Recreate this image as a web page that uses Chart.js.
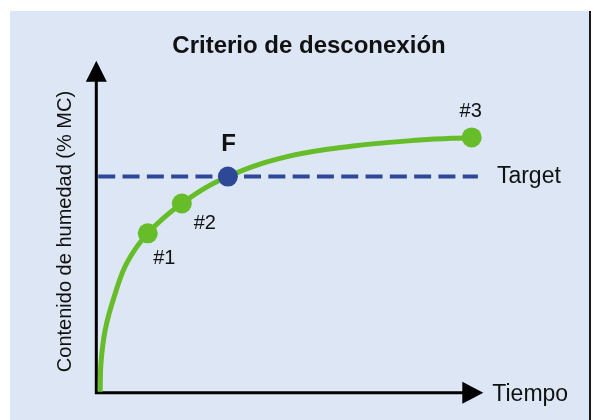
<!DOCTYPE html>
<html>
<head>
<meta charset="utf-8">
<script src="https://cdn.jsdelivr.net/npm/chart.js@4"></script>
<style>
  html, body { margin: 0; padding: 0; background: #ffffff; }
  canvas { display: block; }
</style>
</head>
<body>
<canvas id="grafico" width="595" height="420"></canvas>
<script>
// Datos (unidades arbitrarias: tiempo 0-100, humedad 0-100)
const curvaTiempo = [1.0, 1.2, 2.3, 4.6, 7.9, 13.3, 22.1, 34.0, 49.3, 66.3, 83.6, 97.0];
const curvaHumedad = [0.3, 8.9, 18.9, 28.8, 39.1, 48.0, 57.0, 65.1, 71.1, 74.3, 76.1, 76.9];

const puntosNombre = ['#1', '#2', 'F', '#3'];
const puntosTiempo = [13.3, 22.1, 34.0, 97.0];
const puntosHumedad = [48.0, 57.0, 65.1, 76.9];

const targetHumedad = 65.1;
const targetDesde = 0.5;
const targetHasta = 98.6;

const titulo = 'Criterio de desconexión';
const tituloEjeY = 'Contenido de humedad (% MC)';
const tituloEjeX = 'Tiempo';
const textoTarget = 'Target';

const VERDE = '#66bc29';
const AZUL = '#2e4898';
const FONDO = '#dce6f4';

// fondo, ejes con flechas y textos sueltos
const dibujoExtra = {
    id: 'dibujoExtra',
    beforeDraw(chart) {
        const ctx = chart.ctx;
        ctx.save();
        ctx.fillStyle = '#ffffff';
        ctx.fillRect(0, 0, chart.width, chart.height);
        ctx.fillStyle = FONDO;
        ctx.fillRect(10, 11, 579, 409);
        ctx.fillStyle = '#1a1a1a';
        ctx.fillRect(589, 11, 2, 409);
        ctx.restore();
    },
    beforeDatasetsDraw(chart) {
        const ctx = chart.ctx;
        const sx = chart.scales.x;
        const sy = chart.scales.y;
        const x0 = sx.getPixelForValue(0);
        const y0 = sy.getPixelForValue(0);
        const yTop = sy.getPixelForValue(100);
        const xEnd = sx.getPixelForValue(100);

        ctx.save();
        ctx.strokeStyle = '#000';
        ctx.fillStyle = '#000';
        ctx.lineWidth = 3;
        ctx.beginPath();
        ctx.moveTo(x0, yTop + 20);
        ctx.lineTo(x0, y0);
        ctx.lineTo(xEnd - 20, y0);
        ctx.stroke();

        // flecha eje y
        ctx.beginPath();
        ctx.moveTo(x0, yTop);
        ctx.lineTo(x0 - 10.5, yTop + 21);
        ctx.lineTo(x0 + 10.5, yTop + 21);
        ctx.closePath();
        ctx.fill();
        // flecha eje x
        ctx.beginPath();
        ctx.moveTo(xEnd, y0);
        ctx.lineTo(xEnd - 21, y0 - 11);
        ctx.lineTo(xEnd - 21, y0 + 11);
        ctx.closePath();
        ctx.fill();

        // textos de los ejes
        ctx.fillStyle = '#111';
        ctx.font = '23px "Liberation Sans", Arial, sans-serif';
        ctx.textAlign = 'left';
        ctx.textBaseline = 'alphabetic';
        ctx.fillText(tituloEjeX, xEnd + 9, y0 + 8.5);
        ctx.fillText(textoTarget, sx.getPixelForValue(targetHasta) + 19, sy.getPixelForValue(targetHumedad) + 6.5);

        ctx.translate(65.5, 231.5);
        ctx.rotate(-Math.PI / 2);
        ctx.font = '20px "Liberation Sans", Arial, sans-serif';
        ctx.textAlign = 'center';
        ctx.textBaseline = 'middle';
        ctx.fillText(tituloEjeY, 0, 0);
        ctx.restore();
    },
    afterDatasetsDraw(chart) {
        const ctx = chart.ctx;
        const sx = chart.scales.x;
        const sy = chart.scales.y;
        // desplazamiento de cada etiqueta respecto a su punto
        const desplaz = [[16.5, 31], [23, 26], [0.7, -26], [-1, -20]];
        ctx.save();
        ctx.fillStyle = '#111';
        ctx.textAlign = 'center';
        ctx.textBaseline = 'alphabetic';
        puntosNombre.forEach(function(nombre, i) {
            const px = sx.getPixelForValue(puntosTiempo[i]);
            const py = sy.getPixelForValue(puntosHumedad[i]);
            ctx.font = nombre === 'F'
                ? 'bold 24px "Liberation Sans", Arial, sans-serif'
                : '20px "Liberation Sans", Arial, sans-serif';
            ctx.fillText(nombre, px + desplaz[i][0], py + desplaz[i][1]);
        });
        ctx.restore();
    }
};

const ctx = document.getElementById('grafico').getContext('2d');
new Chart(ctx, {
    type: 'line',
    data: {
        datasets: [
            {
                label: 'Puntos',
                data: puntosTiempo.map((t, i) => ({ x: t, y: puntosHumedad[i] })),
                showLine: false,
                pointRadius: 10,
                pointHoverRadius: 10,
                pointBorderWidth: 0,
                pointBackgroundColor: puntosNombre.map(n => n === 'F' ? AZUL : VERDE),
                pointBorderColor: puntosNombre.map(n => n === 'F' ? AZUL : VERDE),
                order: 1
            },
            {
                label: 'Curva de secado',
                data: curvaTiempo.map((t, i) => ({ x: t, y: curvaHumedad[i] })),
                borderColor: VERDE,
                borderWidth: 5,
                pointRadius: 0,
                tension: 0.4,
                fill: false,
                order: 2
            },
            {
                label: 'Target',
                data: [{ x: targetDesde, y: targetHumedad }, { x: targetHasta, y: targetHumedad }],
                borderColor: AZUL,
                borderWidth: 4,
                borderDash: [17, 7.3],
                pointRadius: 0,
                fill: false,
                order: 3
            }
        ]
    },
    options: {
        responsive: false,
        animation: false,
        layout: {
            autoPadding: false,
            padding: { left: 23, right: 0, top: 0, bottom: 27.3 }
        },
        scales: {
            x: { type: 'linear', display: false, min: -18.94, max: 128.86 },
            y: { type: 'linear', display: false, min: 0, max: 100 }
        },
        plugins: {
            legend: { display: false },
            tooltip: { enabled: false },
            title: {
                display: true,
                text: titulo,
                color: '#111',
                font: { family: '"Liberation Sans", Arial, sans-serif', size: 24, weight: 'bold' },
                padding: { top: 31.6, bottom: 0.3 }
            }
        }
    },
    plugins: [dibujoExtra]
});
</script>
</body>
</html>
